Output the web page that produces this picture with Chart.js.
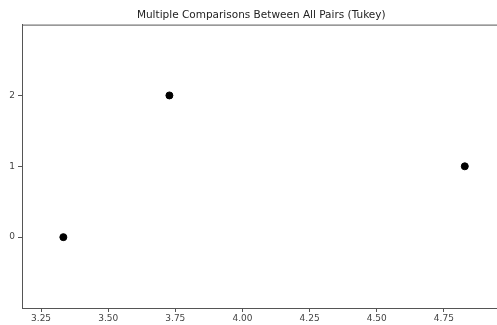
<!DOCTYPE html>
<html>
<head>
<meta charset="utf-8">
<script src="https://cdn.jsdelivr.net/npm/chart.js@4/dist/chart.umd.min.js"></script>
<style>
html,body{margin:0;padding:0;background:#fff;overflow:hidden;}
#wrap{width:505px;height:325px;}
</style>
</head>
<body>
<div id="wrap"><canvas id="c" width="505" height="325"></canvas></div>
<script>
const xValues = [3.333, 3.728, 4.828];
const yValues = [0, 2, 1];
const xTicks = [3.25, 3.50, 3.75, 4.00, 4.25, 4.50, 4.75];
const yTicks = [0, 1, 2];
const titleText = 'Multiple Comparisons Between All Pairs (Tukey)';

const points = xValues.map((x, i) => ({x: x, y: yValues[i]}));
const spineColor = '#555';

const frame = {
  id: 'frame',
  afterDraw(chart) {
    const a = chart.chartArea, ctx = chart.ctx;
    ctx.save();
    ctx.strokeStyle = spineColor;
    ctx.lineWidth = 1;
    ctx.beginPath();
    ctx.moveTo(a.left, a.top + 0.5);
    ctx.lineTo(a.right, a.top + 0.5);
    ctx.stroke();
    ctx.restore();
  }
};

new Chart(document.getElementById('c'), {
  type: 'scatter',
  data: {
    datasets: [{
      data: points,
      backgroundColor: '#000',
      borderColor: '#000',
      pointRadius: 3.5,
      pointHoverRadius: 3.5
    }]
  },
  options: {
    responsive: false,
    animation: false,
    events: [],
    layout: {padding: {left: 0, right: 1, top: 0, bottom: 0}},
    plugins: {
      legend: {display: false},
      tooltip: {enabled: false},
      title: {
        display: true,
        text: titleText,
        fullSize: false,
        color: '#222',
        font: {family: 'DejaVu Sans', size: 10.5, weight: 'normal'},
        padding: {top: 9, bottom: 3}
      }
    },
    scales: {
      x: {
        type: 'linear',
        min: 3.179,
        max: 4.961,
        afterFit: s => { s.height = 17; },
        afterBuildTicks: s => { s.ticks = xTicks.map(v => ({value: v})); },
        grid: {display: true, drawOnChartArea: false, drawTicks: true, tickLength: 4, tickColor: spineColor},
        border: {display: true, color: spineColor, width: 1},
        ticks: {
          color: '#444',
          padding: 1,
          maxRotation: 0,
          autoSkip: false,
          font: {family: 'DejaVu Sans', size: 9},
          callback: v => v.toFixed(2)
        }
      },
      y: {
        type: 'linear',
        min: -1,
        max: 3,
        afterFit: s => { s.width = 22; },
        afterBuildTicks: s => { s.ticks = yTicks.map(v => ({value: v})); },
        grid: {display: true, drawOnChartArea: false, drawTicks: true, tickLength: 4, tickColor: spineColor},
        border: {display: true, color: spineColor, width: 1},
        ticks: {
          color: '#444',
          padding: 3,
          autoSkip: false,
          font: {family: 'DejaVu Sans', size: 9},
          callback: v => String(v)
        }
      }
    }
  },
  plugins: [frame]
});
</script>
</body>
</html>
